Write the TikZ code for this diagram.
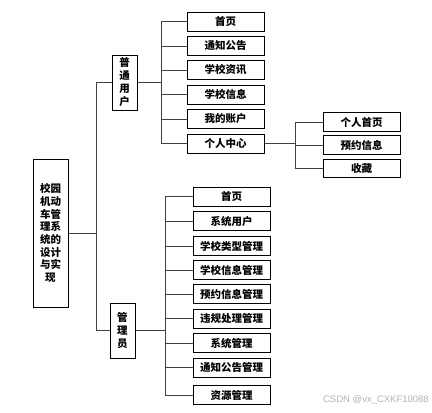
\documentclass[tikz,border=0pt]{standalone}
\usepackage{fontspec}
\newfontfamily\cjk{Noto Sans CJK SC}
\newfontfamily\wmfont{Liberation Sans}
\begin{document}
\begin{tikzpicture}[x=1pt,y=-1pt,
  box/.style={draw=black,line width=1pt,fill=white,inner sep=0pt,align=center,
    font={\cjk\bfseries\fontsize{10.5}{13}\selectfont}},
  leaf/.style={box,minimum width=77pt,minimum height=19pt},
  conn/.style={draw=black!75,line width=0.9pt}]
\useasboundingbox (0,0) rectangle (432,413);
% root
\node[box,minimum width=35pt,minimum height=148pt,font={\cjk\bfseries\fontsize{10.5}{12.7}\selectfont}] (root) at (50.5,233) {校园\\机动\\车管\\理系\\统的\\设计\\与实\\现};
% level 1
\node[box,minimum width=25pt,minimum height=55pt] (user) at (124.5,82.5) {普\\通\\用\\户};
\node[box,minimum width=25pt,minimum height=55pt,font={\cjk\bfseries\fontsize{10.5}{13.3}\selectfont}] (admin) at (122.5,330.5) {管\\理\\员};
% user children
\node[leaf] (u1) at (225.5,21.5) {首页};
\node[leaf] (u2) at (225.5,46) {通知公告};
\node[leaf] (u3) at (225.5,70) {学校资讯};
\node[leaf] (u4) at (225.5,94.5) {学校信息};
\node[leaf] (u5) at (225.5,119) {我的账户};
\node[leaf] (u6) at (225.5,143.5) {个人中心};
% personal center children
\node[leaf,minimum height=18.5pt] (p1) at (361.5,122) {个人首页};
\node[leaf,minimum height=18.5pt] (p2) at (361.5,145) {预约信息};
\node[leaf,minimum height=18.5pt] (p3) at (361.5,168.5) {收藏};
% admin children
\node[leaf] (a1) at (231.5,196.5) {首页};
\node[leaf] (a2) at (231.5,221) {系统用户};
\node[leaf] (a3) at (231.5,246) {学校类型管理};
\node[leaf] (a4) at (231.5,270) {学校信息管理};
\node[leaf] (a5) at (231.5,294) {预约信息管理};
\node[leaf] (a6) at (231.5,318.5) {违规处理管理};
\node[leaf] (a7) at (231.5,343) {系统管理};
\node[leaf] (a8) at (231.5,367.5) {通知公告管理};
\node[leaf] (a9) at (231.5,395) {资源管理};
% junction coordinates
\coordinate (t) at (96,233);
\coordinate (ub) at (161,82.5);
\coordinate (pb) at (295,143.5);
\coordinate (ab) at (165,330.5);
% connectors
\draw[conn] (root.east) -- (t);
\draw[conn] (t) |- (user.west);
\draw[conn] (t) |- (admin.west);
\draw[conn] (user.east) -- (ub);
\foreach \n in {u1,u2,u3,u4,u5,u6} \draw[conn] (ub) |- (\n.west);
\draw[conn] (u6.east) -- (pb);
\foreach \n in {p1,p2,p3} \draw[conn] (pb) |- (\n.west);
\draw[conn] (admin.east) -- (ab);
\foreach \n in {a1,a2,a3,a4,a5,a6,a7,a8,a9} \draw[conn] (ab) |- (\n.west);
% watermark
\node[anchor=east,inner sep=0pt,text=black!30,font={\wmfont\fontsize{9.5}{11}\selectfont}] (wm) at (429,400) {CSDN @vx\_CXKF10088};
\end{tikzpicture}
\end{document}
